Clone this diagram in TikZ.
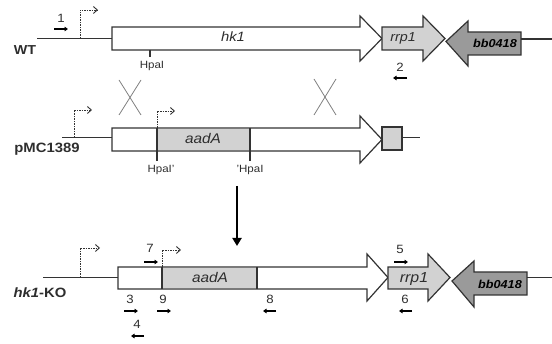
\documentclass[tikz,border=0pt]{standalone}
\usepackage{fontspec}
\setmainfont[FakeStretch=1.1]{Liberation Sans}
\usetikzlibrary{arrows.meta}
\definecolor{outl}{HTML}{333333}
\definecolor{txt}{HTML}{2E2E2E}
\definecolor{lgray}{HTML}{D2D2D2}
\definecolor{dgray}{HTML}{9A9A9A}
\tikzset{
  gene/.style={draw=outl, line width=1.2pt, line join=miter},
  dna/.style={draw=outl, line width=1.2pt},
  prom/.style={draw=outl, line width=0.8pt, dash pattern=on 1.5pt off 1pt, -{Straight Barb[length=4pt,width=7pt,line width=0.9pt]}},
  primer/.style={draw=black, line width=1.5pt, -{Triangle[length=3.5pt,width=4.5pt]}},
  tick/.style={draw=outl, line width=1.1pt},
  cross/.style={draw=gray, line width=0.8pt},
  lbl/.style={text=txt, inner sep=0pt, font=\fontsize{12}{12}\selectfont},
  rowlbl/.style={text=txt, inner sep=0pt, font=\fontsize{13.5}{13.5}\selectfont\bfseries},
  site/.style={text=txt, inner sep=0pt, font=\fontsize{10.5}{10.5}\selectfont},
}
\begin{document}
\begin{tikzpicture}[x=1pt,y=-1pt]
\useasboundingbox (0,0) rectangle (552,344);

% ================= WT =================
\coordinate (wtL) at (37,38.5);
\coordinate (wtA) at (112,38.5);
\draw[dna] (wtL) -- (wtA);
\draw[gene, fill=white] (112,27) -- (360,27) -- (360,16) -- (382,38.5) -- (360,61) -- (360,50) -- (112,50) -- cycle;
\draw[gene, fill=lgray] (382,27) -- (423,27) -- (423,16) -- (445,38.5) -- (423,61) -- (423,50) -- (382,50) -- cycle;
\draw[gene, fill=dgray] (446,41.5) -- (468,21) -- (468,32) -- (521,32) -- (521,55) -- (468,55) -- (468,66) -- cycle;
\coordinate (wtR1) at (521,39);
\coordinate (wtR2) at (552,39);
\draw[dna] (wtR1) -- (wtR2);
\node[rowlbl, font=\fontsize{13}{13}\selectfont\bfseries] (wt) at (25,50) {WT};
\node[text=txt, inner sep=0pt, font=\fontsize{13.5}{13.5}\selectfont\itshape] (hkone) at (233,37) {hk1};
\node[text=txt, inner sep=0pt, font=\fontsize{13}{13}\selectfont\itshape] (rrpa) at (403,38) {rrp1};
\node[text=black, inner sep=0pt, font=\fontsize{11.5}{11.5}\selectfont\bfseries\itshape] (bba) at (495,43.5) {bb0418};
% promoter
\coordinate (p1a) at (80,38.5);
\coordinate (p1b) at (80,10);
\coordinate (p1c) at (98,10);
\draw[prom] (p1a) -- (p1b) -- (p1c);
% HpaI
\coordinate (h1a) at (150,50);
\coordinate (h1b) at (150,57.5);
\draw[tick] (h1a) -- (h1b);
\node[site] (hpa1) at (152,66) {HpaI};
% primers
\node[lbl] (n1) at (61,18) {1};
\coordinate (pr1a) at (54,29); \coordinate (pr1b) at (68,29);
\draw[primer] (pr1a) -- (pr1b);
\node[lbl] (n2) at (400,67) {2};
\coordinate (pr2a) at (407,78); \coordinate (pr2b) at (393,78);
\draw[primer] (pr2a) -- (pr2b);

% ================= crosses =================
\coordinate (xa1) at (119,80); \coordinate (xa2) at (141,115);
\coordinate (xa3) at (141,80); \coordinate (xa4) at (119,115);
\draw[cross] (xa1) -- (xa2); \draw[cross] (xa3) -- (xa4);
\coordinate (xb1) at (314,79); \coordinate (xb2) at (336,115);
\coordinate (xb3) at (336,79); \coordinate (xb4) at (314,115);
\draw[cross] (xb1) -- (xb2); \draw[cross] (xb3) -- (xb4);

% ================= pMC1389 =================
\coordinate (pmL) at (62,137.5);
\coordinate (pmA) at (112,137.5);
\draw[dna] (pmL) -- (pmA);
\draw[gene, fill=white] (112,128) -- (360,128) -- (360,116) -- (382,139.5) -- (360,163) -- (360,151) -- (112,151) -- cycle;
\fill[lgray] (157,128.6) rectangle (250,150.4);
\coordinate (aL) at (157,128); \coordinate (aLb) at (157,161.5);
\coordinate (aR) at (250,128); \coordinate (aRb) at (250,161.5);
\draw[tick] (aL) -- (aLb);
\draw[tick] (aR) -- (aRb);
\node[text=txt, inner sep=0pt, font=\fontsize{14}{14}\selectfont\itshape] (aadA1) at (203,139) {aadA};
\draw[gene, fill=lgray] (382,127) rectangle (402,150);
\coordinate (pmR1) at (402,137.5); \coordinate (pmR2) at (420,137.5);
\draw[dna] (pmR1) -- (pmR2);
\node[rowlbl] (pmc) at (47,149) {pMC1389};
\coordinate (p2a) at (74,137.5); \coordinate (p2b) at (74,110); \coordinate (p2c) at (92,110);
\draw[prom] (p2a) -- (p2b) -- (p2c);
\coordinate (p3b) at (157,111); \coordinate (p3c) at (175,111);
\draw[prom] (aL) -- (p3b) -- (p3c);
\node[site] (hpa2) at (161,170) {HpaI'};
\node[site] (hpa3) at (250,170) {'HpaI};

% ================= big arrow =================
\coordinate (ba1) at (237,186); \coordinate (ba2) at (237,246);
\draw[line width=2.6pt, -{Triangle[length=8pt,width=9pt]}] (ba1) -- (ba2);

% ================= hk1-KO =================
\coordinate (koL) at (43,277.5);
\coordinate (koA) at (118,277.5);
\draw[dna] (koL) -- (koA);
\draw[gene, fill=white] (118,267) -- (367,267) -- (367,254) -- (388,277.5) -- (367,301) -- (367,289) -- (118,289) -- cycle;
\fill[lgray] (162,267.6) rectangle (257,288.4);
\coordinate (kaL) at (162,267); \coordinate (kaLb) at (162,289);
\coordinate (kaR) at (257,267); \coordinate (kaRb) at (257,289);
\draw[tick] (kaL) -- (kaLb);
\draw[tick] (kaR) -- (kaRb);
\node[text=txt, inner sep=0pt, font=\fontsize{14}{14}\selectfont\itshape] (aadA2) at (210,278) {aadA};
\draw[gene, fill=lgray] (388,267) -- (428,267) -- (428,254) -- (450,277.5) -- (428,301) -- (428,289) -- (388,289) -- cycle;
\draw[gene, fill=dgray] (452,281) -- (474,261) -- (474,272) -- (527,272) -- (527,295) -- (474,295) -- (474,307) -- cycle;
\coordinate (koR1) at (527,277.5); \coordinate (koR2) at (552,277.5);
\draw[dna] (koR1) -- (koR2);
\node[text=txt, inner sep=0pt, font=\fontsize{14.5}{14.5}\selectfont\itshape] (rrpb) at (414,279) {rrp1};
\node[text=black, inner sep=0pt, font=\fontsize{11.5}{11.5}\selectfont\bfseries\itshape] (bbb) at (500,284) {bb0418};
\node[rowlbl] (ko) at (40,293) {\itshape hk1\upshape -KO};
% promoters
\coordinate (p4a) at (80,277.5); \coordinate (p4b) at (80,248); \coordinate (p4c) at (100,248);
\draw[prom] (p4a) -- (p4b) -- (p4c);
\coordinate (p5b) at (162,250); \coordinate (p5c) at (181,250);
\draw[prom] (kaL) -- (p5b) -- (p5c);
% primers
\node[lbl] (n7) at (150,248) {7};
\coordinate (pr7a) at (144,262); \coordinate (pr7b) at (158,262);
\draw[primer] (pr7a) -- (pr7b);
\node[lbl] (n3) at (130,299) {3};
\coordinate (pr3a) at (124,311); \coordinate (pr3b) at (138,311);
\draw[primer] (pr3a) -- (pr3b);
\node[lbl] (n9) at (163,299) {9};
\coordinate (pr9a) at (157,311); \coordinate (pr9b) at (171,311);
\draw[primer] (pr9a) -- (pr9b);
\node[lbl] (n4) at (137,324) {4};
\coordinate (pr4a) at (144,336); \coordinate (pr4b) at (131,336);
\draw[primer] (pr4a) -- (pr4b);
\node[lbl] (n8) at (270,299) {8};
\coordinate (pr8a) at (276,311); \coordinate (pr8b) at (263,311);
\draw[primer] (pr8a) -- (pr8b);
\node[lbl] (n5) at (400,249) {5};
\coordinate (pr5a) at (394,262); \coordinate (pr5b) at (408,262);
\draw[primer] (pr5a) -- (pr5b);
\node[lbl] (n6) at (405,299) {6};
\coordinate (pr6a) at (412,311); \coordinate (pr6b) at (399,311);
\draw[primer] (pr6a) -- (pr6b);
\end{tikzpicture}
\end{document}
